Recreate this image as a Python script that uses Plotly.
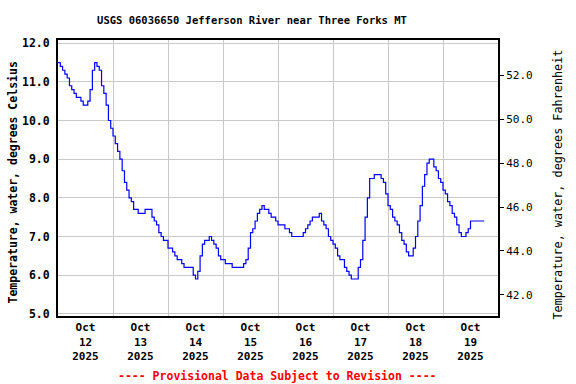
import pandas as pd
import plotly.graph_objects as go

# Hourly water temperature (deg C), starting 2025-10-12 00:00
oct12 = [11.5, 11.4, 11.3, 11.2, 11.1, 10.9, 10.8, 10.7, 10.6, 10.6, 10.5, 10.4,
         10.4, 10.5, 10.8, 11.3, 11.5, 11.4, 11.3, 10.9, 10.7, 10.4, 10.0, 9.8]
oct13 = [9.6, 9.4, 9.2, 9.0, 8.7, 8.4, 8.2, 8.0, 7.9, 7.7, 7.7, 7.6,
         7.6, 7.6, 7.7, 7.7, 7.7, 7.5, 7.4, 7.3, 7.1, 7.0, 6.9, 6.9]
oct14 = [6.7, 6.7, 6.6, 6.5, 6.4, 6.4, 6.3, 6.2, 6.2, 6.2, 6.2, 6.0,
         5.9, 6.1, 6.5, 6.8, 6.9, 6.9, 7.0, 6.9, 6.8, 6.7, 6.5, 6.4]
oct15 = [6.4, 6.3, 6.3, 6.3, 6.2, 6.2, 6.2, 6.2, 6.2, 6.3, 6.4, 6.7,
         7.1, 7.2, 7.4, 7.6, 7.7, 7.8, 7.7, 7.7, 7.6, 7.5, 7.5, 7.4]
oct16 = [7.3, 7.3, 7.3, 7.2, 7.2, 7.1, 7.0, 7.0, 7.0, 7.0, 7.0, 7.1,
         7.2, 7.3, 7.4, 7.5, 7.5, 7.5, 7.6, 7.4, 7.3, 7.2, 7.0, 6.9]
oct17 = [6.8, 6.7, 6.5, 6.4, 6.4, 6.2, 6.1, 6.0, 5.9, 5.9, 5.9, 6.2,
         6.4, 6.9, 7.5, 8.0, 8.5, 8.5, 8.6, 8.6, 8.6, 8.5, 8.4, 8.1]
oct18 = [7.8, 7.7, 7.5, 7.4, 7.3, 7.1, 6.9, 6.8, 6.6, 6.5, 6.5, 6.7,
         7.0, 7.4, 7.8, 8.3, 8.6, 8.9, 9.0, 9.0, 8.8, 8.7, 8.5, 8.4]
oct19 = [8.2, 8.1, 7.9, 7.8, 7.6, 7.5, 7.3, 7.1, 7.0, 7.0, 7.1, 7.2,
         7.4, 7.4, 7.4, 7.4, 7.4, 7.4, 7.4]

start_time = "2025-10-12 00:00"
x_range = ["2025-10-12 00:00", "2025-10-20 00:00"]
c_ticks = [5, 6, 7, 8, 9, 10, 11, 12]
f_ticks = [42, 44, 46, 48, 50, 52]

temps_c = oct12 + oct13 + oct14 + oct15 + oct16 + oct17 + oct18 + oct19
times = pd.date_range(start_time, periods=len(temps_c), freq="h")
temps_f = [t * 1.8 + 32 for t in temps_c]

FONT = "DejaVu Sans Mono"

fig = go.Figure()
fig.add_trace(go.Scatter(x=times, y=temps_c, mode="lines", line_shape="hv",
                         line=dict(color="#0000FF", width=1.2),
                         showlegend=False, hoverinfo="skip"))
fig.add_trace(go.Scatter(x=times, y=temps_f, mode="lines", yaxis="y2",
                         line=dict(color="rgba(0,0,0,0)", width=0),
                         showlegend=False, hoverinfo="skip"))

fig.update_layout(
    width=576, height=384,
    margin=dict(l=58, r=78, t=40, b=68),
    paper_bgcolor="white", plot_bgcolor="white",
    title=dict(text="USGS 06036650 Jefferson River near Three Forks MT",
               x=252/576, xref="container", xanchor="center",
               y=1 - 20/384, yref="container", yanchor="middle",
               font=dict(family=FONT, size=10.5, color="black", weight="bold")),
    xaxis=dict(type="date", range=x_range, dtick=86400000, tick0="2025-10-12",
               ticklabelmode="period", tickformat="%b<br>%d<br>%Y",
               showgrid=True, gridcolor="#c8c8c8", gridwidth=1,
               showline=True, linecolor="black", linewidth=2, mirror=True,
               ticks="", zeroline=False,
               tickfont=dict(family=FONT, size=11, color="black", weight="bold")),
    yaxis=dict(range=[4.943, 12.083], tickvals=c_ticks, tickformat=".1f",
               showgrid=True, gridcolor="#c8c8c8", gridwidth=1,
               showline=True, linecolor="black", linewidth=2, mirror=True,
               ticks="", zeroline=False, ticklabelstandoff=4,
               tickfont=dict(family=FONT, size=11.5, color="black", weight="bold")),
    yaxis2=dict(range=[41.03, 53.62], tickvals=f_ticks, tickformat=".1f",
                overlaying="y", side="right", showgrid=False, zeroline=False,
                showline=True, linecolor="black", linewidth=2,
                ticks="outside", ticklen=4, tickcolor="black",
                tickfont=dict(family=FONT, size=11, color="black")),
)

fig.add_annotation(text="Temperature, water, degrees Celsius", xref="paper", yref="paper",
                   x=(12 - 58) / 440, y=(315.5 - 182) / 276, textangle=-90,
                   showarrow=False, xanchor="center", yanchor="middle",
                   font=dict(family=FONT, size=11.5, color="black", weight="bold"))
fig.add_annotation(text="Temperature, water, degrees Fahrenheit", xref="paper", yref="paper",
                   x=(557 - 58) / 440, y=(315.5 - 184) / 276, textangle=-90,
                   showarrow=False, xanchor="center", yanchor="middle",
                   font=dict(family=FONT, size=11.8, color="black"))
fig.add_annotation(text="---- Provisional Data Subject to Revision ----",
                   xref="paper", yref="paper",
                   x=(277 - 58) / 440, y=(315.5 - 375) / 276,
                   showarrow=False, xanchor="center", yanchor="middle",
                   font=dict(family=FONT, size=11.5, color="#FF0000", weight="bold"))

fig.write_html("out.html", config={"displayModeBar": False},
               post_script="document.body.style.margin='0';document.body.style.padding='0';")
